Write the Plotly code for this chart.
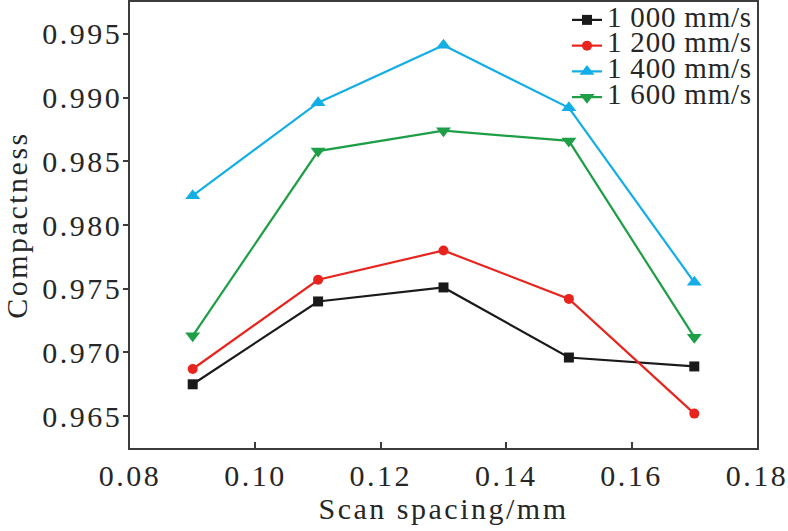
import plotly.graph_objects as go

# scan spacing (mm) and compactness per scan speed
spacing = [0.09, 0.11, 0.13, 0.15, 0.17]
speeds = ["1 000 mm/s", "1 200 mm/s", "1 400 mm/s", "1 600 mm/s"]
v1000 = [0.9675, 0.9740, 0.9751, 0.9696, 0.9689]
v1200 = [0.9687, 0.9757, 0.9780, 0.9742, 0.9652]
v1400 = [0.9823, 0.9896, 0.9941, 0.9892, 0.9755]
v1600 = [0.9713, 0.9858, 0.9874, 0.9866, 0.9712]

x_tickvals = [0.08, 0.10, 0.12, 0.14, 0.16, 0.18]
x_ticktext = ["0.08", "0.10", "0.12", "0.14", "0.16", "0.18"]
y_tickvals = [0.965, 0.970, 0.975, 0.980, 0.985, 0.990, 0.995]
y_ticktext = ["0.965", "0.970", "0.975", "0.980", "0.985", "0.990", "0.995"]

colors = ["#1a1a1a", "#e8241e", "#14aee6", "#1e9e46"]
symbols = ["square", "circle", "triangle-up", "triangle-down"]
sizes = [10, 10, 13, 13]

FONT = "Liberation Serif"
TXT = "#262626"
AX = "#3c3c3c"


def spaced(t, size=None, track=2.5):
    # the reference type is set with a little tracking
    st = "letter-spacing:%spx" % track
    if size:
        st += ";font-size:%dpx" % size
    return '<span style="%s">%s</span>' % (st, t)


fig = go.Figure()
for name, ys, c, s, sz in zip(speeds, [v1000, v1200, v1400, v1600], colors, symbols, sizes):
    fig.add_trace(go.Scatter(
        x=spacing, y=ys, mode="lines+markers",
        name=spaced(name, 29, 0.8),
        line=dict(color=c, width=2.2),
        marker=dict(symbol=s, size=sz, color=c),
    ))

fig.update_layout(
    width=788, height=531,
    margin=dict(l=130, r=31, t=2, b=83),
    paper_bgcolor="white", plot_bgcolor="white",
    font=dict(family=FONT, size=30, color=TXT),
    legend=dict(
        x=1, y=1, xanchor="right", yanchor="top",
        bgcolor="rgba(0,0,0,0)", borderwidth=0,
        font=dict(family=FONT, size=17.5, color=TXT),
        tracegroupgap=0,
    ),
    showlegend=True,
)

fig.update_xaxes(
    range=[0.08, 0.18], tickvals=x_tickvals, ticktext=[spaced(t) for t in x_ticktext],
    showgrid=False, zeroline=False, automargin=False,
    showline=True, linecolor=AX, linewidth=1.5, mirror=True,
    ticks="inside", ticklen=6, tickwidth=1.5, tickcolor=AX,
    ticklabelstandoff=0, ticklabeloverflow="allow",
    title=dict(text=spaced("Scan spacing/mm"), standoff=0, font=dict(size=30)),
)
fig.update_yaxes(
    range=[0.9625, 0.9975], tickvals=y_tickvals, ticktext=[spaced(t) for t in y_ticktext],
    showgrid=False, zeroline=False, automargin=False,
    showline=True, linecolor=AX, linewidth=1.5, mirror=True,
    ticks="outside", ticklen=5, tickwidth=1.5, tickcolor=AX,
    ticklabelstandoff=-5,
    title=dict(text=spaced("Compactness"), standoff=11, font=dict(size=30)),
)

# page body has a default 8px margin that shifts the figure
fig.write_html("out.html", config={"displayModeBar": False},
               post_script="document.body.style.margin='0';")
